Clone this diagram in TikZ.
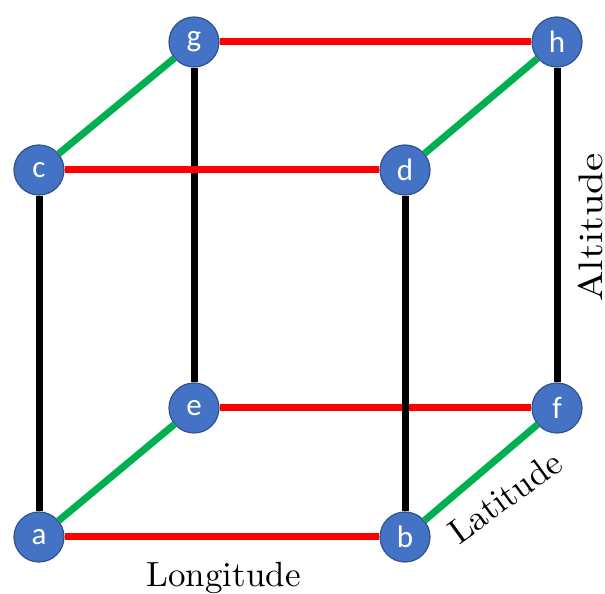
\documentclass[tikz,border=0pt]{standalone}
\usepackage{fontspec}
\newfontfamily\nodefont{Carlito}
\begin{document}
\begin{tikzpicture}[x=1pt,y=1pt,
  vtx/.style={circle,minimum size=50pt,inner sep=0pt,fill={rgb,255:red,68;green,114;blue,196},draw={rgb,255:red,47;green,82;blue,143},line width=1.2pt,text=white,font=\nodefont\fontsize{31}{34}\selectfont},
  redline/.style={draw={rgb,255:red,255;green,0;blue,0},line width=7pt},
  greenline/.style={draw={rgb,255:red,0;green,176;blue,80},line width=7pt},
  blackline/.style={draw=black,line width=7pt},
  lbl/.style={font=\fontsize{10}{12}\selectfont,inner sep=0pt}]
\useasboundingbox (0,0) rectangle (605,594);
\node[vtx] (a) at (39,57) {a};
\node[vtx] (b) at (405,57) {b};
\node[vtx] (c) at (39,424) {c};
\node[vtx] (d) at (405,424) {d};
\node[vtx] (e) at (194,186) {e};
\node[vtx] (f) at (557,186) {f};
\node[vtx] (g) at (194,552) {g};
\node[vtx] (h) at (557,552) {h};
% edges
\draw[blackline] (g) -- (e);
\draw[blackline] (c) -- (a);
\draw[blackline] (h) -- (f);
\draw[redline] (c) -- (d);
\draw[redline] (g) -- (h);
\draw[redline] (e) -- (f);
\draw[redline] (a) -- (b);
\draw[blackline] (d) -- (b);
\draw[greenline] (c) -- (g);
\draw[greenline] (d) -- (h);
\draw[greenline] (a) -- (e);
\draw[greenline] (b) -- (f);
% labels
\node[lbl,scale=3.5,anchor=base] (lon) at (223.5,7) {Longitude};
\node[lbl,scale=3.5,rotate=36] (lat) at (505,97) {Latitude};
\node[lbl,scale=3.4,rotate=90] (alt) at (590.5,366.5) {\scalebox{1.2}[1]{Altitude}};
\end{tikzpicture}
\end{document}
